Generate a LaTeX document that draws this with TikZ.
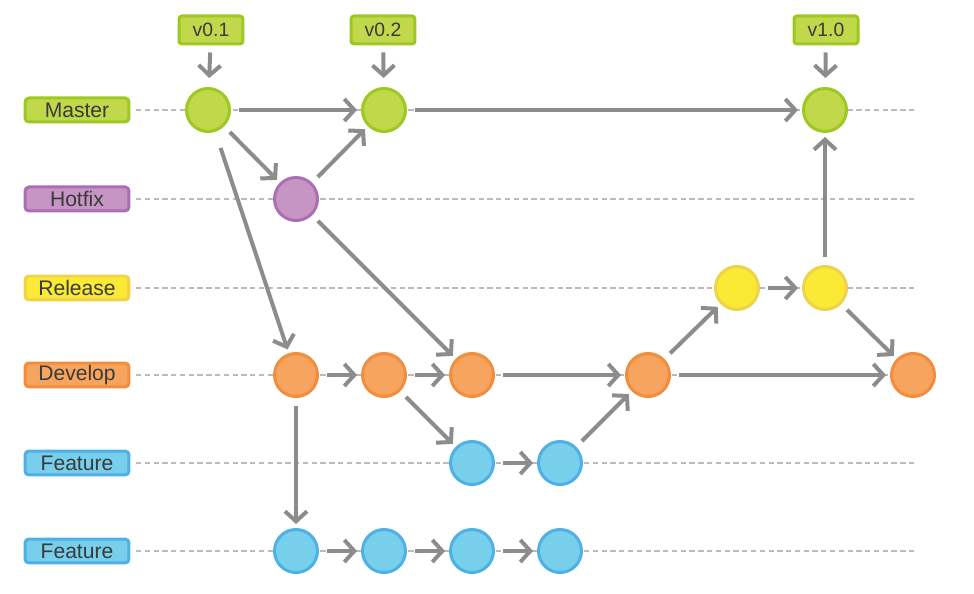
\documentclass[tikz,border=0pt]{standalone}
\usepackage{fontspec}
\setmainfont{Liberation Sans}
\usetikzlibrary{arrows.meta}
\definecolor{greenfill}{HTML}{C0D84A}
\definecolor{greenline}{HTML}{9DC823}
\definecolor{purplefill}{HTML}{C695C4}
\definecolor{purpleline}{HTML}{A86FB4}
\definecolor{yellowfill}{HTML}{FBEA35}
\definecolor{yellowline}{HTML}{EDD24C}
\definecolor{orangefill}{HTML}{F7A55E}
\definecolor{orangeline}{HTML}{F28C3E}
\definecolor{bluefill}{HTML}{78CFEB}
\definecolor{blueline}{HTML}{4FB0E5}
\definecolor{arrowgray}{HTML}{8C8C8C}
\definecolor{lanegray}{HTML}{BBBBBB}
\definecolor{textgray}{HTML}{3A3A3A}
\begin{document}
\begin{tikzpicture}[x=0.02cm,y=-0.02cm,
    >={Straight Barb[length=0.2cm,width=0.44cm]},
    commit/.style={circle,minimum size=0.86cm,inner sep=0pt,line width=0.06cm},
    branch/.style={rounded corners=0.08cm,minimum width=2.08cm,minimum height=0.48cm,inner sep=0pt,line width=0.06cm,text=textgray,font=\fontsize{12}{12}\selectfont},
    tag/.style={rounded corners=0.06cm,minimum width=1.28cm,minimum height=0.56cm,inner sep=0pt,line width=0.06cm,fill=greenfill,draw=greenline,text=textgray,font=\fontsize{11}{11}\selectfont},
    flow/.style={->,draw=arrowgray,line width=0.08cm,shorten <=0.16cm,shorten >=0.08cm},
    pin/.style={->,draw=arrowgray,line width=0.08cm,shorten <=0.14cm,shorten >=0.18cm},
    lane/.style={draw=lanegray,line width=0.6pt,dash pattern=on 3pt off 2pt}]
    \useasboundingbox (0,0) rectangle (974,594);
    % lanes
    \foreach \y in {110,199,288,375,463,551}
        \draw[lane] (136,\y) -- (915,\y);
    \fill[arrowgray] (88,34) circle (0.02);
    % branch labels
    \node[branch,fill=greenfill,draw=greenline] (lm) at (77,110) {Master};
    \node[branch,fill=purplefill,draw=purpleline] (lh) at (77,199) {Hotfix};
    \node[branch,fill=yellowfill,draw=yellowline] (lr) at (77,288) {Release};
    \node[branch,fill=orangefill,draw=orangeline] (ld) at (77,375) {Develop};
    \node[branch,fill=bluefill,draw=blueline] (lfa) at (77,463) {Feature};
    \node[branch,fill=bluefill,draw=blueline] (lfb) at (77,551) {Feature};
    % commits
    \node[commit,fill=greenfill,draw=greenline] (m1) at (208,110) {};
    \node[commit,fill=greenfill,draw=greenline] (m2) at (384,110) {};
    \node[commit,fill=greenfill,draw=greenline] (m3) at (825,110) {};
    \node[commit,fill=purplefill,draw=purpleline] (h1) at (296,199) {};
    \node[commit,fill=yellowfill,draw=yellowline] (r1) at (737,288) {};
    \node[commit,fill=yellowfill,draw=yellowline] (r2) at (825,288) {};
    \node[commit,fill=orangefill,draw=orangeline] (d1) at (296,375) {};
    \node[commit,fill=orangefill,draw=orangeline] (d2) at (384,375) {};
    \node[commit,fill=orangefill,draw=orangeline] (d3) at (472,375) {};
    \node[commit,fill=orangefill,draw=orangeline] (d4) at (648,375) {};
    \node[commit,fill=orangefill,draw=orangeline] (d5) at (913,375) {};
    \node[commit,fill=bluefill,draw=blueline] (fa1) at (472,463) {};
    \node[commit,fill=bluefill,draw=blueline] (fa2) at (560,463) {};
    \node[commit,fill=bluefill,draw=blueline] (fb1) at (296,551) {};
    \node[commit,fill=bluefill,draw=blueline] (fb2) at (384,551) {};
    \node[commit,fill=bluefill,draw=blueline] (fb3) at (472,551) {};
    \node[commit,fill=bluefill,draw=blueline] (fb4) at (560,551) {};
    % tags
    \node[tag] (t1) at (211,30) {v0.1};
    \node[tag] (t2) at (383,30) {v0.2};
    \node[tag] (t3) at (826,30) {v1.0};
    \draw[pin] (t1) -- (m1);
    \draw[pin] (t2) -- (m2);
    \draw[pin] (t3) -- (m3);
    % history
    \draw[flow] (m1) -- (m2);
    \draw[flow] (m2) -- (m3);
    \draw[flow] (m1) -- (h1);
    \draw[flow,shorten <=0.34cm] (m1) -- (d1);
    \draw[flow] (h1) -- (m2);
    \draw[flow] (h1) -- (d3);
    \draw[flow] (d1) -- (d2);
    \draw[flow] (d2) -- (d3);
    \draw[flow] (d3) -- (d4);
    \draw[flow] (d4) -- (d5);
    \draw[flow] (d1) -- (fb1);
    \draw[flow] (d2) -- (fa1);
    \draw[flow] (fa1) -- (fa2);
    \draw[flow] (fa2) -- (d4);
    \draw[flow] (d4) -- (r1);
    \draw[flow] (r1) -- (r2);
    \draw[flow] (r2) -- (m3);
    \draw[flow] (r2) -- (d5);
    \draw[flow] (fb1) -- (fb2);
    \draw[flow] (fb2) -- (fb3);
    \draw[flow] (fb3) -- (fb4);
\end{tikzpicture}
\end{document}
